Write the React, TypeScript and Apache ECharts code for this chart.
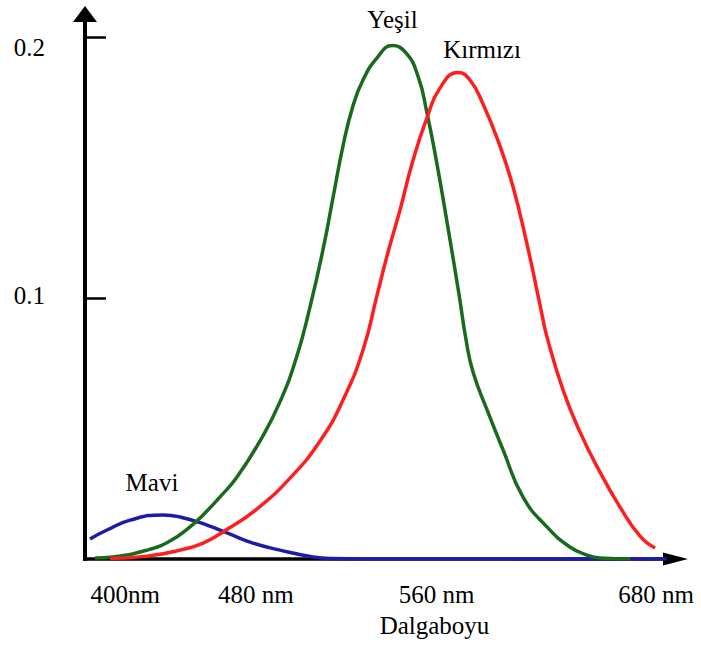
import React, { useEffect, useRef } from "react";
import * as echarts from "echarts";

// ---- data ----
const yTickValues = [0.1, 0.2];
const xTickValues = [400, 480, 560, 680];
const xTickLabels = ["400nm", "480 nm", "560 nm", "680 nm"];
const xAxisName = "Dalgaboyu";
const seriesNames = ["Mavi", "Yeşil", "Kırmızı"];

// [wavelength nm, relative sensitivity]
const blueData = [
  [385.6, 0.0077], [394.4, 0.0111], [406.4, 0.0149], [423.5, 0.0169],
  [432.3, 0.0161], [446.3, 0.013], [456.7, 0.01], [470.2, 0.0061],
  [484.2, 0.0034], [501.3, 0.0008], [511.7, 0.0002], [540, 0], [685, 0],
];

const greenData = [
  [388.2, 0.0004], [397.5, 0.0008], [415.2, 0.0034], [427.1, 0.0069],
  [437.5, 0.0123], [444.3, 0.0169], [453.1, 0.0238], [461.9, 0.0314],
  [473.8, 0.0452], [484.2, 0.0602], [493.0, 0.0778], [499.8, 0.0966],
  [506.5, 0.1184], [511.7, 0.1383], [516.9, 0.1582], [522.1, 0.1736],
  [527.3, 0.1835], [534.6, 0.192], [542.4, 0.1967], [549.6, 0.1939],
  [555.8, 0.1851], [560.5, 0.1709], [565.7, 0.1513], [570.9, 0.1291],
  [577.1, 0.1015], [580.8, 0.0839], [584.4, 0.0716], [591.7, 0.0571],
  [600.0, 0.0418], [610.3, 0.0238], [622.8, 0.0123], [634.7, 0.0046],
  [643.6, 0.0015], [650.3, 0.0004], [665.9, 0],
];

const redData = [
  [396.0, 0.0002], [415.2, 0.0011], [432.3, 0.0034], [444.3, 0.0061],
  [456.2, 0.0111], [472.3, 0.0192], [489.4, 0.031], [505.0, 0.0452],
  [516.9, 0.0609], [527.3, 0.0801], [534.6, 0.1011], [540.3, 0.1176],
  [546.5, 0.1337], [553.3, 0.1529], [560.5, 0.169], [567.3, 0.1805],
  [576.6, 0.1864], [582.8, 0.1835], [589.6, 0.1743], [598.4, 0.1582],
  [605.2, 0.1425], [612.4, 0.1207], [619.2, 0.0973], [622.8, 0.0851],
  [631.1, 0.0648], [639.9, 0.0487], [650.3, 0.0333], [660.7, 0.0199],
  [671.1, 0.0088], [678.9, 0.0042],
];

const FONT = "'Liberation Serif', 'Times New Roman', Times, serif";
const FS = 25;

// label nudges (style only)
const xLabelPadding = [
  [0, 0, 0, 15],
  [0, 32, 0, 0],
  [0, 0, 0, 21],
  [0, 2, 0, 0],
];
const yLabelPadding = [
  [0, 0, 5, 0],
  [22, 0, 0, 0],
];

export default function App() {
  const ref = useRef<HTMLDivElement>(null);
  useEffect(() => {
    if (!ref.current) return;
    const chart = echarts.init(ref.current, null, { renderer: "svg" });
    const baseText = { fontFamily: FONT, fontSize: FS, color: "#000" };
    const xRich: any = {};
    xLabelPadding.forEach((p, i) => {
      xRich["l" + i] = { ...baseText, padding: p };
    });
    const yRich: any = {};
    yLabelPadding.forEach((p, i) => {
      yRich["y" + i] = { ...baseText, padding: p };
    });
    const lineSeries = (name: string, data: number[][], color: string) => ({
      name,
      type: "line",
      data,
      smooth: 0.5,
      symbol: "none",
      lineStyle: { color, width: 3.5 },
    });
    const textEl = (text: string, x: number, y: number) => ({
      type: "text",
      x,
      y,
      style: { text, font: `${FS}px ${FONT}`, fill: "#000", align: "center", verticalAlign: "middle" },
    });
    const option: any = {
      animation: false,
      backgroundColor: "#ffffff",
      grid: {
        left: 85,
        right: 25.5,
        top: 14,
        bottom: 87,
        containLabel: false,
        outerBoundsMode: "none",
      },
      xAxis: {
        type: "value",
        min: 383,
        max: 689.5,
        axisLine: {
          show: true,
          onZero: false,
          symbol: ["none", "triangle"],
          symbolSize: [13, 25],
          lineStyle: { color: "#000", width: 3.5 },
        },
        axisTick: { show: false },
        splitLine: { show: false },
        axisLabel: {
          customValues: xTickValues,
          margin: 23,
          ...baseText,
          formatter: (v: number) => {
            const i = xTickValues.indexOf(v);
            return i < 0 ? "" : `{l${i}|${xTickLabels[i]}}`;
          },
          rich: xRich,
        },
      },
      yAxis: {
        type: "value",
        min: 0,
        max: 0.2088,
        axisLine: {
          show: true,
          symbol: ["none", "triangle"],
          symbolSize: [24, 16],
          lineStyle: { color: "#000", width: 4, cap: "square" },
        },
        axisTick: {
          show: true,
          inside: true,
          length: 21,
          customValues: yTickValues,
          lineStyle: { color: "#000", width: 2.5 },
        },
        splitLine: { show: false },
        axisLabel: {
          customValues: yTickValues,
          margin: 40,
          ...baseText,
          formatter: (v: number) => {
            const i = yTickValues.findIndex((t) => Math.abs(t - v) < 1e-9);
            return i < 0 ? "" : `{y${i}|${v.toFixed(1)}}`;
          },
          rich: yRich,
        },
      },
      series: [
        lineSeries(seriesNames[0], blueData, "#1c1ca8"),
        lineSeries(seriesNames[1], greenData, "#1a6a1e"),
        lineSeries(seriesNames[2], redData, "#ff1e1e"),
      ],
      graphic: [
        textEl(seriesNames[1], 392.5, 19),
        textEl(seriesNames[2], 482, 49),
        textEl(seriesNames[0], 152, 482.5),
        textEl(xAxisName, 434.5, 625),
      ],
    };
    chart.setOption(option);
    return () => chart.dispose();
  }, []);
  return (
    <div
      ref={ref}
      style={{ position: "fixed", left: 0, top: 0, width: 701, height: 646, background: "#fff" }}
    />
  );
}
